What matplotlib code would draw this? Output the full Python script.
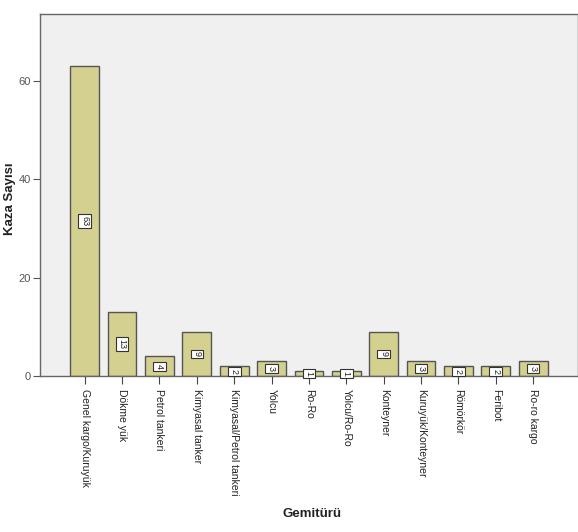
import numpy as np
import matplotlib.pyplot as plt

plt.rcParams['font.family'] = ['Liberation Sans', 'DejaVu Sans']

# Veri
gemi_turu = ['Genel kargo/Kuruyük', 'Dökme yük', 'Petrol tankeri', 'Kimyasal tanker',
             'Kimyasal/Petrol tankeri', 'Yolcu', 'Ro-Ro', 'Yolcu/Ro-Ro', 'Konteyner',
             'Kuruyük/Konteyner', 'Römörkör', 'Feribot', 'Ro-ro kargo']
kaza_sayisi = [63, 13, 4, 9, 2, 3, 1, 1, 9, 3, 2, 2, 3]
y_ticks = [0, 20, 40, 60]

fig = plt.figure(figsize=(5.78, 5.32), dpi=100)
ax = fig.add_axes([0.069, 0.293, 0.931, 0.681])
ax.set_facecolor('#f0f0f0')

x = np.arange(len(gemi_turu))
ax.bar(x, kaza_sayisi, width=0.77, color='#d4d08f', edgecolor='#555555', linewidth=1.0, zorder=2)

# Çubuk içi değer etiketleri
for xi, v in zip(x, kaza_sayisi):
    ax.text(xi, v / 2, str(v), rotation=-90, ha='center', va='center', fontsize=6.5,
            color='#222222', zorder=3,
            bbox=dict(boxstyle='square,pad=0.2', facecolor='white', edgecolor='#333333', linewidth=0.8))

ax.set_xlim(-1.2, 13.2)
ax.set_ylim(0, 73.6)
ax.set_yticks(y_ticks)
ax.set_xticks(x)
ax.set_xticklabels(gemi_turu, rotation=-90, fontsize=7.5, color='#222222')
ax.tick_params(axis='y', labelsize=8, colors='#555555', length=5, pad=1.5)
ax.tick_params(axis='x', length=6, color='#444444')

for s in ax.spines.values():
    s.set_color('#666666')
    s.set_linewidth(1.0)

ax.set_ylabel('Kaza Sayısı', fontsize=9.5, fontweight='bold', color='#222222')
ax.yaxis.set_label_coords(-0.045, 0.49)
fig.text(0.54, 0.028, 'Gemitürü', fontsize=9.5, fontweight='bold', color='#222222', ha='center')

plt.savefig('out.png', dpi=100)
